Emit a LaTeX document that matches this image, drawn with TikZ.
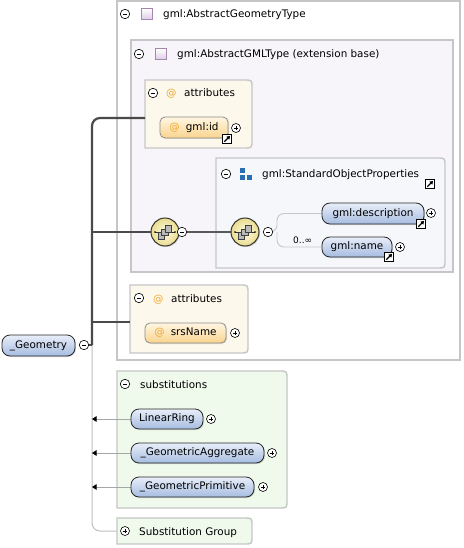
\documentclass[tikz,border=0pt]{standalone}
\usepackage{fontspec}
\setmainfont{DejaVu Sans}
\usetikzlibrary{shadows,arrows.meta}
\definecolor{boxgray}{HTML}{C6C6C6}
\definecolor{lavfill}{HTML}{F8F5FA}
\definecolor{creamfill}{HTML}{FDF8EC}
\definecolor{sopfill}{HTML}{F5F7FB}
\definecolor{greenfill}{HTML}{EFFAEC}
\definecolor{elTop}{HTML}{E8EEF9}
\definecolor{elBot}{HTML}{A6BCE0}
\definecolor{atTop}{HTML}{FFF6E2}
\definecolor{atBot}{HTML}{F9D48E}
\definecolor{atc}{HTML}{EFA835}
\definecolor{mainline}{HTML}{4A4A4A}
\definecolor{icblue}{HTML}{2A6DB3}
\definecolor{purpB}{HTML}{A787B0}
\definecolor{purpF}{HTML}{DCCDE4}
\definecolor{seqIn}{HTML}{FFFBE2}
\definecolor{seqOut}{HTML}{E9DC8E}
\newcommand\fsz{\fontsize{10.4}{12}\selectfont}
\newcommand\atsym{{\color{atc}@}}
\newcommand\rcbox[3]{\filldraw[fill=#2, draw=boxgray, line width=1.4pt]
  (#1.south west) -- (#1.north west) -- ([xshift=-#3]#1.north east)
  .. controls (#1.north east) .. ([yshift=-#3]#1.north east)
  -- ([yshift=#3]#1.south east) .. controls (#1.south east) .. ([xshift=-#3]#1.south east) -- cycle;}
\newcommand\sepline[4]{\shade[left color=#4, middle color=black!22, right color=#4] (#1,#3-0.8) rectangle (#2,#3+0.8);}
\pgfdeclarelayer{boxes}
\pgfdeclarelayer{lines}
\pgfsetlayers{boxes,lines,main}
\tikzset{
  boxn/.style={inner sep=0pt, outer sep=0pt},
  sqbox/.style={boxn, draw=boxgray, line width=1.4pt},
  title/.style={anchor=base west, inner sep=0pt, font=\fsz},
  elem/.style={draw=black!85, line width=0.8pt, rounded corners=8pt, top color=elTop, bottom color=elBot,
    inner sep=0pt, minimum height=20pt, font=\fsz,
    drop shadow={shadow xshift=1pt, shadow yshift=-1pt, opacity=0.3}},
  attrel/.style={draw=black!45, line width=0.8pt, rounded corners=5pt, top color=atTop, bottom color=atBot,
    inner sep=0pt, minimum height=20pt, font=\fsz,
    drop shadow={shadow xshift=1pt, shadow yshift=-1pt, opacity=0.25}},
  ctl/.style={circle, draw=black, line width=0.6pt, fill=white, minimum size=9.5pt, inner sep=0pt},
  minusc/.style={ctl, path picture={\draw[line width=0.7pt] ([xshift=2.3pt]path picture bounding box.west) -- ([xshift=-2.3pt]path picture bounding box.east);}},
  plusc/.style={ctl, minimum size=9pt, path picture={\draw[line width=0.7pt] ([xshift=2.2pt]path picture bounding box.west) -- ([xshift=-2.2pt]path picture bounding box.east) ([yshift=2.2pt]path picture bounding box.south) -- ([yshift=-2.2pt]path picture bounding box.north);}},
  linkic/.style={draw=black, fill=white, line width=0.7pt, minimum size=8.5pt, inner sep=0pt,
    path picture={\draw[line width=1.3pt, -{Triangle[length=3.2pt,width=4pt]}] ([shift={(1.6pt,1.6pt)}]path picture bounding box.south west) -- ([shift={(-1.2pt,-1.2pt)}]path picture bounding box.north east);}},
  typeic/.style={draw=purpB, line width=0.7pt, top color=white, bottom color=purpF, minimum size=11pt, inner sep=0pt},
  seqc/.style={circle, draw=black!80, line width=1pt, inner color=seqIn, outer color=seqOut, minimum size=28pt, inner sep=0pt,
    drop shadow={shadow xshift=1pt, shadow yshift=-1pt, opacity=0.3},
    path picture={
      \draw[line width=0.6pt] ([xshift=4pt]path picture bounding box.west) -- ([xshift=-4pt]path picture bounding box.east);
      \fill ([xshift=4pt]path picture bounding box.west) circle (0.9pt);
      \fill ([xshift=-4pt]path picture bounding box.east) circle (0.9pt);
      \foreach \d in {-6.8pt,-3.3pt,0.2pt}
        \filldraw[fill=gray!55, draw=black!75, line width=0.45pt] ([shift={(\d,\d)}]path picture bounding box.center) rectangle ++(6.2pt,6.2pt);
    }},
  mainl/.style={draw=mainline, line width=2.2pt},
  thinl/.style={draw=black!25, line width=1pt},
  seql/.style={draw=black!65, line width=1.1pt},
  brl/.style={draw=black!22, line width=0.9pt},
  subl/.style={draw=black!35, line width=0.9pt, -{Triangle[length=4.5pt,width=5.5pt,color=black]}},
}
\begin{document}
\begin{tikzpicture}[x=1pt,y=-1pt]
\useasboundingbox (0,0) rectangle (463,548);
\begin{pgfonlayer}{boxes}
\fill[white] (0,0) rectangle (463,548);
\node[sqbox, fill=white, minimum width=343, minimum height=359] (gtype) at (288.5,180.5) {};
\node[sqbox, fill=lavfill, minimum width=322, minimum height=232] (gmltype) at (292,156) {};
\node[boxn, minimum width=107, minimum height=68] (attr1) at (198.5,114) {};
\rcbox{attr1}{creamfill}{8pt}
\node[boxn, minimum width=229, minimum height=110] (sop) at (330.5,213) {};
\rcbox{sop}{sopfill}{8pt}
\node[boxn, minimum width=118, minimum height=68] (attr2) at (189,319) {};
\rcbox{attr2}{creamfill}{8pt}
\node[boxn, minimum width=170, minimum height=137] (subs) at (202,439.5) {};
\rcbox{subs}{greenfill}{8pt}
\node[boxn, minimum width=135, minimum height=26] (sg) at (184.5,531) {};
\rcbox{sg}{greenfill}{8pt}
\sepline{120}{390}{29.5}{white}
\sepline{134}{380}{68.5}{lavfill}
\sepline{148}{228}{107.5}{creamfill}
\sepline{220}{360}{192.5}{sopfill}
\sepline{133}{222}{312.5}{creamfill}
\sepline{120}{250}{398.5}{greenfill}
\end{pgfonlayer}
% titles
\node[minusc] (m0) at (125,14) {};
\node[typeic] (ic0) at (147,14) {};
\node[title] (t0) at (163,18) {gml:AbstractGeometryType};
\node[minusc] (m1) at (139,54) {};
\node[typeic] (ic1) at (161,54) {};
\node[title] (t1) at (177,58) {gml:AbstractGMLType (extension base)};
\node[minusc] (m2) at (153,93) {};
\node[title] (a2) at (166,97) {\atsym};
\node[title] (t2) at (184,97) {attributes};
\node[minusc] (m3) at (226,174) {};
\fill[icblue] (240,168) rectangle (245,173);
\fill[icblue] (240,175) rectangle (245,180);
\fill[icblue] (247,175) rectangle (252,180);
\node[title] (t3) at (262,177) {gml:StandardObjectProperties};
\node[linkic] (l3) at (430,184) {};
\node[minusc] (m4) at (139,298) {};
\node[title] (a4) at (153,302) {\atsym};
\node[title] (t4) at (171,302) {attributes};
\node[minusc] (m5) at (125,384) {};
\node[title] (t5) at (140,388) {substitutions};
\node[plusc] (p6) at (125,531) {};
\node[title] (t6) at (139,535) {Substitution Group};
% element nodes
\node[attrel, minimum width=68pt, minimum height=21pt] (gid) at (194,127.5) {\atsym\hspace{6pt}gml:id};
\node[plusc] (gidp) at (236,128) {};
\node[linkic] (gidl) at (227,139) {};
\node[attrel, minimum width=81pt] (srs) at (185.5,333) {\atsym\hspace{6pt}srsName};
\node[plusc] (srsp) at (235,333) {};
\node[seqc] (s1) at (165,232) {};
\node[minusc] (s1m) at (182,232) {};
\node[seqc] (s2) at (245,232) {};
\node[minusc] (s2m) at (268,232) {};
\node[elem, minimum width=102pt, minimum height=21pt] (desc) at (373,213.5) {gml:description};
\node[plusc] (descp) at (431,213) {};
\node[linkic] (descl) at (421,224) {};
\node[elem, minimum width=70pt] (nm) at (357,247) {gml:name};
\node[plusc] (nmp) at (400,247) {};
\node[linkic] (nml) at (389,257) {};
\node[title, font=\fontsize{9}{10}\selectfont] (occ) at (293,243) {0..∞};
\node[elem, minimum width=73pt, minimum height=21pt] (geo) at (38.5,345.5) {\_Geometry};
\node[minusc] (geom) at (84,345) {};
\node[elem, minimum width=72pt] (lr) at (167,419) {LinearRing};
\node[plusc] (lrp) at (211,419) {};
\node[elem, minimum width=133pt] (ga) at (197.5,453) {\_GeometricAggregate};
\node[plusc] (gap) at (272,453) {};
\node[elem, minimum width=123pt] (gp) at (192.5,487) {\_GeometricPrimitive};
\node[plusc] (gpp) at (263,487) {};
% connectors
\coordinate (j) at (92,345);
\coordinate (br) at (277,232);
\begin{pgfonlayer}{lines}
\draw[thinl, rounded corners=8pt] (j) |- (sg.west);
\draw[mainl] (geom.east) -- (j);
\draw[mainl, rounded corners=8pt] (j) |- ([yshift=-4pt]attr1.west);
\draw[mainl] (j) |- (s1.west);
\draw[mainl] (j) |- ([yshift=-3pt]attr2.west);
\draw[seql] (s1m.east) -- (s2.west);
\draw[brl, rounded corners=7pt] (s2m.east) -- (br) |- (desc.west);
\draw[brl, rounded corners=7pt] (br) |- (nm.west);
\draw[subl] (lr.west) -- (lr.west -| j);
\draw[subl] (ga.west) -- (ga.west -| j);
\draw[subl] (gp.west) -- (gp.west -| j);
\end{pgfonlayer}
\end{tikzpicture}
\end{document}
